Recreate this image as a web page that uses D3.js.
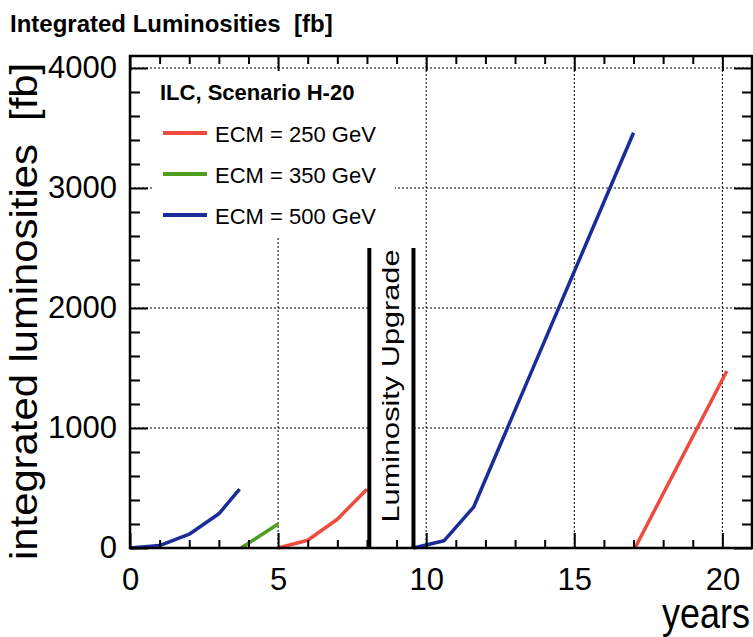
<!DOCTYPE html>
<html>
<head>
<meta charset="utf-8">
<script src="https://cdn.jsdelivr.net/npm/d3@7"></script>
<style>
  body { margin: 0; background: #fff; }
  text { font-family: "Liberation Sans", Arial, Helvetica, sans-serif; fill: #000; }
</style>
</head>
<body>
<div id="chart"></div>
<script>
// data (years, integrated luminosity in fb^-1)
var years250a = [5, 6, 7, 8];
var lumi250a = [0, 65, 240, 490];
var years250b = [17.05, 20.15];
var lumi250b = [0, 1475];

var years350 = [3.75, 5];
var lumi350 = [0, 200];

var years500a = [0, 1, 2, 3, 3.7];
var lumi500a = [0, 20, 115, 285, 490];
var years500b = [9.57, 10.6, 11.6, 17];
var lumi500b = [0, 60, 340, 3460];

var legendLabels = ["ECM = 250 GeV", "ECM = 350 GeV", "ECM = 500 GeV"];
var legendColors = ["#ee4a3e", "#4f9e1e", "#1b2c98"];

var xMajorTicks = [0, 5, 10, 15, 20];
var yMajorTicks = [0, 1000, 2000, 3000, 4000];

// luminosity upgrade period
var upgradeYears = [8.08, 9.57];
var upgradeTop = 2500;

var svgWidth = 753;
var svgHeight = 637;

var svg = d3.select("#chart")
  .append("svg")
  .attr("width", svgWidth)
  .attr("height", svgHeight);

var xScale = d3.scaleLinear().domain([0, 21]).range([130, 752]);
var yScale = d3.scaleLinear().domain([0, 4100]).range([548, 56]);

var x0 = xScale(0), x1 = xScale(21);
var y0 = yScale(0), y1 = yScale(4100);

// dotted grid
var grid = svg.append("g")
  .attr("stroke", "#000")
  .attr("stroke-width", 1)
  .attr("stroke-dasharray", "2,2");

grid.selectAll(".gx")
  .data(xMajorTicks.filter(d => d > 0))
  .enter()
  .append("line")
  .attr("x1", d => xScale(d))
  .attr("x2", d => xScale(d))
  .attr("y1", y0)
  .attr("y2", y1);

grid.selectAll(".gy")
  .data(yMajorTicks.filter(d => d > 0))
  .enter()
  .append("line")
  .attr("x1", x0)
  .attr("x2", x1)
  .attr("y1", d => yScale(d))
  .attr("y2", d => yScale(d));

// white legend background hides the grid
svg.append("rect")
  .attr("x", 152)
  .attr("y", 70)
  .attr("width", 243)
  .attr("height", 166)
  .attr("fill", "#fff");

// upgrade box
svg.append("rect")
  .attr("x", xScale(upgradeYears[0]))
  .attr("y", yScale(upgradeTop))
  .attr("width", xScale(upgradeYears[1]) - xScale(upgradeYears[0]))
  .attr("height", y0 - yScale(upgradeTop))
  .attr("fill", "#fff");

// curves
var line = d3.line()
  .x(d => xScale(d[0]))
  .y(d => yScale(d[1]));

var curves = [
  { x: years500a, y: lumi500a, c: legendColors[2] },
  { x: years350, y: lumi350, c: legendColors[1] },
  { x: years250a, y: lumi250a, c: legendColors[0] },
  { x: years500b, y: lumi500b, c: legendColors[2] },
  { x: years250b, y: lumi250b, c: legendColors[0] }
];

svg.selectAll(".curve")
  .data(curves)
  .enter()
  .append("path")
  .attr("d", d => line(d3.zip(d.x, d.y)))
  .attr("fill", "none")
  .attr("stroke", d => d.c)
  .attr("stroke-width", 3.5)
  .attr("stroke-linejoin", "round");

// upgrade box sides
svg.selectAll(".upLine")
  .data(upgradeYears)
  .enter()
  .append("line")
  .attr("x1", d => xScale(d))
  .attr("x2", d => xScale(d))
  .attr("y1", yScale(upgradeTop))
  .attr("y2", y0)
  .attr("stroke", "#000")
  .attr("stroke-width", 4);

var upX = (xScale(upgradeYears[0]) + xScale(upgradeYears[1])) / 2 + 8;
svg.append("text")
  .attr("transform", `translate(${upX}, 386) rotate(-90) scale(1.28, 1)`)
  .attr("text-anchor", "middle")
  .attr("font-size", "24px")
  .text("Luminosity Upgrade");

// axes with inward ticks
function styleAxis(g) {
  g.select(".domain").remove();
  g.selectAll(".tick line").attr("stroke", "#000").attr("stroke-width", 2);
  g.selectAll("text").attr("font-size", "31px").attr("fill", "#000")
    .attr("font-family", "Liberation Sans, Arial, sans-serif");
}

var minorX = d3.range(0, 22, 1).filter(d => d % 5 !== 0);
var minorY = d3.range(0, 4100, 200).filter(d => d % 1000 !== 0);

svg.append("g")
  .attr("transform", `translate(0, ${y0})`)
  .call(d3.axisBottom(xScale).tickValues(xMajorTicks).tickFormat(d3.format("d"))
    .tickSizeInner(-15).tickSizeOuter(0).tickPadding(20))
  .call(styleAxis);
svg.append("g")
  .attr("transform", `translate(0, ${y0})`)
  .call(d3.axisBottom(xScale).tickValues(minorX).tickSize(-8).tickFormat(""))
  .call(styleAxis);
svg.append("g")
  .attr("transform", `translate(0, ${y1})`)
  .call(d3.axisTop(xScale).tickValues(xMajorTicks).tickSize(-15).tickFormat(""))
  .call(styleAxis);
svg.append("g")
  .attr("transform", `translate(0, ${y1})`)
  .call(d3.axisTop(xScale).tickValues(minorX).tickSize(-8).tickFormat(""))
  .call(styleAxis);

svg.append("g")
  .attr("transform", `translate(${x0}, 0)`)
  .call(d3.axisLeft(yScale).tickValues(yMajorTicks).tickFormat(d3.format("d"))
    .tickSizeInner(-18).tickSizeOuter(0).tickPadding(13))
  .call(styleAxis);
svg.append("g")
  .attr("transform", `translate(${x0}, 0)`)
  .call(d3.axisLeft(yScale).tickValues(minorY).tickSize(-10).tickFormat(""))
  .call(styleAxis);
svg.append("g")
  .attr("transform", `translate(${x1}, 0)`)
  .call(d3.axisRight(yScale).tickValues(yMajorTicks).tickSize(-18).tickFormat(""))
  .call(styleAxis);
svg.append("g")
  .attr("transform", `translate(${x1}, 0)`)
  .call(d3.axisRight(yScale).tickValues(minorY).tickSize(-10).tickFormat(""))
  .call(styleAxis);

// frame
svg.append("rect")
  .attr("x", x0)
  .attr("y", y1)
  .attr("width", x1 - x0)
  .attr("height", y0 - y1)
  .attr("fill", "none")
  .attr("stroke", "#000")
  .attr("stroke-width", 2.5);

// titles
svg.append("text")
  .attr("x", 10)
  .attr("y", 32)
  .attr("font-size", "24px")
  .attr("font-weight", "bold")
  .style("white-space", "pre")
  .text("Integrated Luminosities  [fb]");

svg.append("text")
  .attr("transform", "translate(37, 560) rotate(-90) scale(1.1, 1)")
  .attr("font-size", "38px")
  .style("white-space", "pre")
  .text("integrated luminosities  [fb]");

svg.append("text")
  .attr("transform", "translate(750, 628) scale(1, 1.2)")
  .attr("text-anchor", "end")
  .attr("font-size", "36px")
  .text("years");

// legend
svg.append("text")
  .attr("x", 160)
  .attr("y", 100)
  .attr("font-size", "22px")
  .attr("font-weight", "bold")
  .text("ILC, Scenario H-20");

var legendY = [133, 174, 215];

var legend = svg.selectAll(".legend")
  .data(legendLabels)
  .enter()
  .append("g")
  .attr("transform", (d, i) => `translate(163, ${legendY[i]})`);

legend.append("line")
  .attr("x1", 0)
  .attr("x2", 44)
  .attr("stroke", (d, i) => legendColors[i])
  .attr("stroke-width", 4);

legend.append("text")
  .attr("x", 52)
  .attr("y", 9)
  .attr("font-size", "22px")
  .text(d => d);
</script>
</body>
</html>
